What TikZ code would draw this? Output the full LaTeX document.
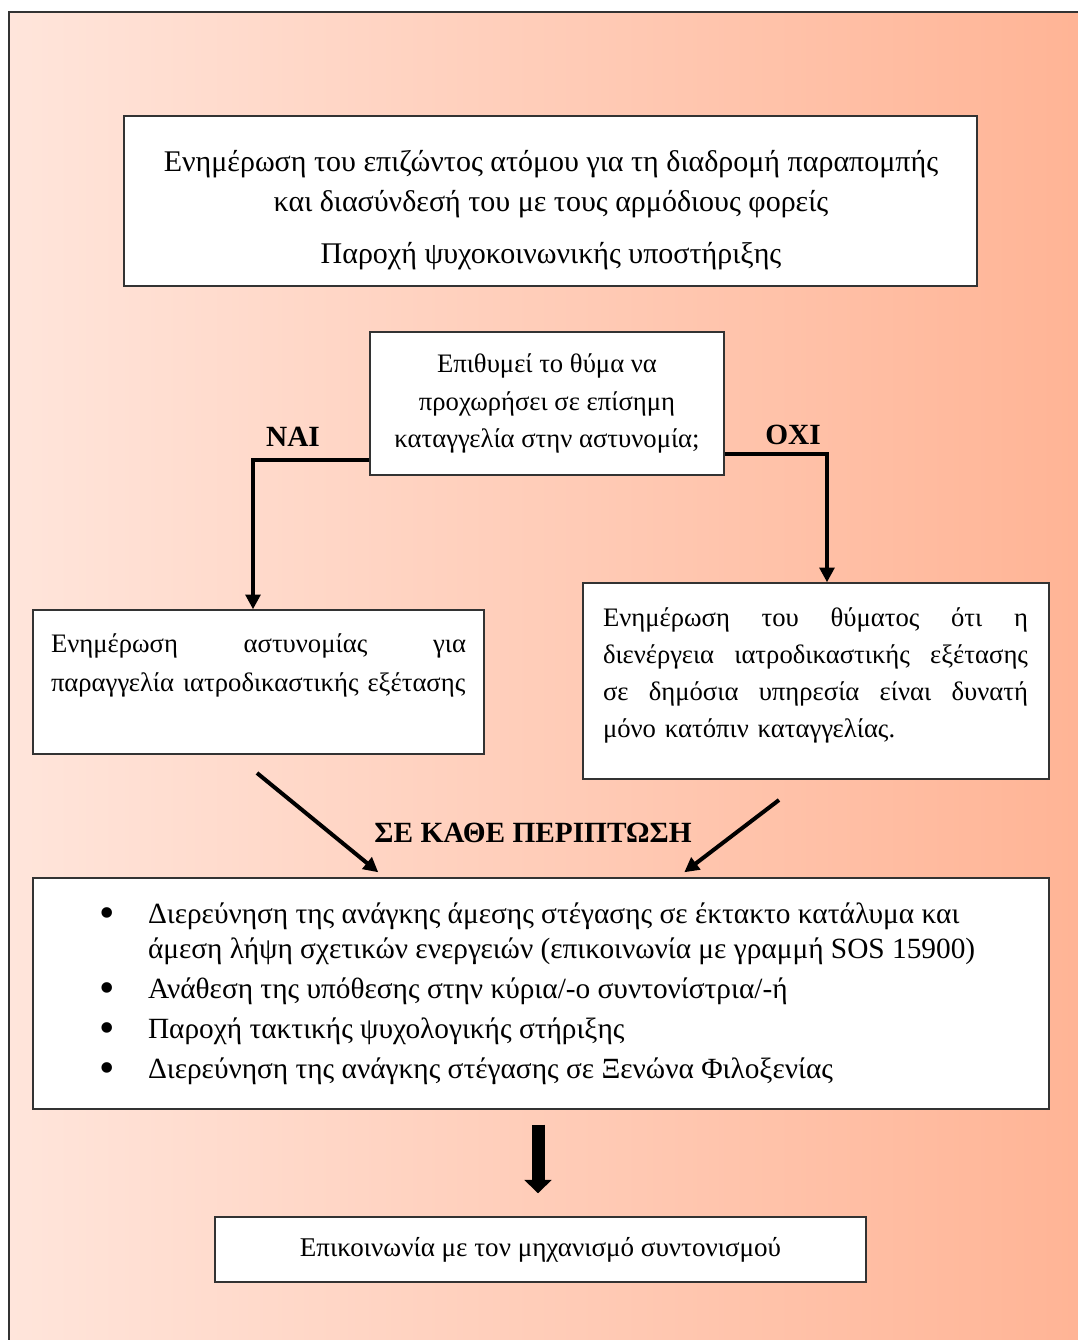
\documentclass[tikz,border=0pt]{standalone}
\usepackage{fontspec}
\usepackage{graphicx}
\setmainfont{Liberation Serif}
\usetikzlibrary{arrows.meta,calc}
\definecolor{bgL}{HTML}{FFE5DB}
\definecolor{bgR}{HTML}{FFB394}
\definecolor{edge}{HTML}{333333}
\newcommand{\bigbullet}{\hspace*{56pt}\makebox[0pt][c]{\raisebox{-3.5pt}{\scalebox{1.5}{\textbullet}}}}
\begin{document}
\begin{tikzpicture}[x=0.75pt,y=-0.75pt,
  box/.style={draw=edge, line width=1.1pt, fill=white, inner ysep=0pt, inner xsep=0pt},
  txt/.style={inner sep=0pt},
  conn/.style={line width=3pt, -{Triangle[length=11pt,width=11pt]}},
  lbl/.style={font=\fontsize{22}{26}\selectfont\bfseries, inner sep=0pt, anchor=base}]
\clip (0,0) rectangle (1078,1340);
\path[left color=bgL, right color=bgR, draw=edge, line width=1.2pt] (9,12) rectangle (1100,1360);

% top box
\node[box, minimum width=640pt, minimum height=127.5pt] (top) at (550.5,201) {};
\node[txt, align=center, font=\fontsize{22.5}{30}\selectfont] (toptext) at (551,210)
  {Ενημέρωση του επιζώντος ατόμου για τη διαδρομή παραπομπής\\
   και διασύνδεσή του με τους αρμόδιους φορείς\\[9pt]
   Παροχή ψυχοκοινωνικής υποστήριξης};

% question
\node[box, minimum width=265.5pt, minimum height=107.25pt, align=center,
      font=\fontsize{20}{28.1}\selectfont] (q) at (547,403.5)
  {Επιθυμεί το θύμα να\\ προχωρήσει σε επίσημη\\ καταγγελία στην αστυνομία;};

% left box
\node[box, inner xsep=13.5pt, text width=311.25pt, minimum height=108pt, align=left,
      font=\fontsize{20}{29.25}\selectfont] (l) at (258.5,682)
  {Ενημέρωση\hfill αστυνομίας\hfill για\\
   παραγγελία ιατροδικαστικής εξέτασης\\ \mbox{}};

% right box
\node[box, minimum width=349.5pt, minimum height=147pt] (r) at (816,681) {};
\node[txt, text width=318.75pt, align=left, font=\fontsize{20}{27.75}\selectfont]
  (rtext) at (815.5,675)
  {Ενημέρωση\hfill του\hfill θύματος\hfill ότι\hfill η\\
   διενέργεια\hfill ιατροδικαστικής\hfill εξέτασης\\
   σε\hfill δημόσια\hfill υπηρεσία\hfill είναι\hfill δυνατή\\
   μόνο κατόπιν καταγγελίας.};

% big box
\node[box, minimum width=762pt, minimum height=173.25pt,
      font=\fontsize{22}{26.25}\selectfont] (big) at (541,993.5)
  {\begin{tabular}{@{}p{86.25pt}@{}p{675.75pt}@{}}
   \bigbullet & Διερεύνηση της ανάγκης άμεσης στέγασης σε έκτακτο κατάλυμα και\newline
     άμεση λήψη σχετικών ενεργειών (επικοινωνία με γραμμή SOS 15900)\\[3.75pt]
   \bigbullet & Ανάθεση της υπόθεσης στην κύρια/-ο συντονίστρια/-ή\\[3.75pt]
   \bigbullet & Παροχή τακτικής ψυχολογικής στήριξης\\[3.75pt]
   \bigbullet & Διερεύνηση της ανάγκης στέγασης σε Ξενώνα Φιλοξενίας
   \end{tabular}};

% bottom box
\node[box, minimum width=488.25pt, minimum height=48.75pt,
      font=\fontsize{20.3}{24}\selectfont] (bot) at (540.5,1249.5)
  {Επικοινωνία με τον μηχανισμό συντονισμού};

% labels
\node[lbl] (nai) at (293,446) {ΝΑΙ};
\node[lbl] (oxi) at (793,444) {ΟΧΙ};
\node[lbl] (every) at (533,842) {ΣΕ ΚΑΘΕ ΠΕΡΙΠΤΩΣΗ};

% connectors
\draw[conn] ([yshift=12pt]q.south west) -| ([xshift=-4.125pt]l.north);
\draw[conn] ([yshift=16.5pt]q.south east) -| ([xshift=8.25pt]r.north);

\coordinate (d1) at (257,773);
\coordinate (d2) at (779,800);
\draw[conn] (d1) -- ($(big.north west)+(346,-5)$);
\draw[conn] (d2) -- ($(big.north west)+(652,-5)$);

\draw[line width=9.75pt, -{Triangle[length=10pt,width=20pt]}]
  ($(big.south)+(-3,15)$) -- ($(bot.north)+(-2.5,-23)$);
\end{tikzpicture}
\end{document}
